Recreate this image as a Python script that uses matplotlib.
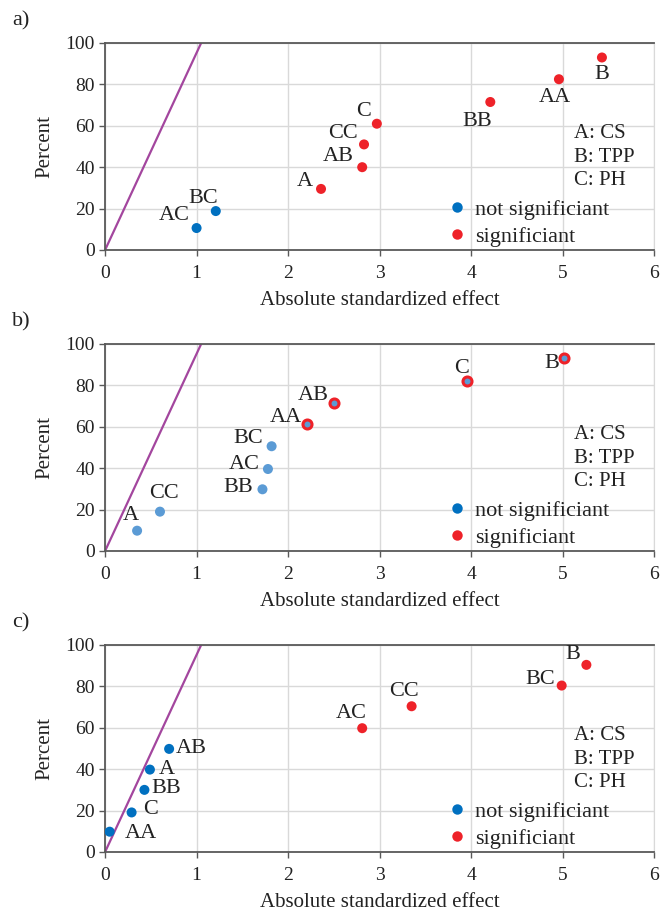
import matplotlib
matplotlib.use('Agg')
import matplotlib.pyplot as plt
from matplotlib.lines import Line2D

plt.rcParams['font.family'] = ['Liberation Serif', 'DejaVu Serif']

# data
panel_names = ['a)', 'b)', 'c)']

a_labels = ['AC', 'BC', 'A', 'AB', 'CC', 'C', 'BB', 'AA', 'B']
a_effect = [1.0, 1.21, 2.36, 2.81, 2.83, 2.97, 4.21, 4.96, 5.43]
a_percent = [10.6, 18.8, 29.5, 40.0, 51.0, 61.0, 71.5, 82.5, 93.0]
a_signif = [False, False, True, True, True, True, True, True, True]

b_labels = ['A', 'CC', 'BB', 'AC', 'BC', 'AA', 'AB', 'C', 'B']
b_effect = [0.35, 0.60, 1.72, 1.78, 1.82, 2.21, 2.50, 3.95, 5.02]
b_percent = [9.8, 19.0, 29.8, 39.6, 50.6, 61.4, 71.3, 82.2, 93.0]
b_signif = [False, False, False, False, False, True, True, True, True]

c_labels = ['AA', 'C', 'BB', 'A', 'AB', 'AC', 'CC', 'BC', 'B']
c_effect = [0.05, 0.29, 0.43, 0.49, 0.70, 2.81, 3.35, 4.99, 5.26]
c_percent = [9.8, 19.1, 30.0, 39.8, 49.8, 59.8, 70.4, 80.4, 90.4]
c_signif = [False, False, False, False, False, True, True, True, True]

# reference line (Pareto limit)
ref_x = [0, 1.05]
ref_y = [0, 100]

factor_text = 'A: CS\nB: TPP\nC: PH'

# label placement: (dx px, dy px, ha, va)
a_pos = [(-7, 3, 'right', 'bottom'), (2, 3, 'right', 'bottom'), (-8, -2, 'right', 'bottom'),
         (-8, 1, 'right', 'bottom'), (-6, 1, 'right', 'bottom'), (-6, 3, 'right', 'bottom'),
         (2, -10, 'right', 'top'), (-4, -9, 'center', 'top'), (0, -8, 'center', 'top')]
b_pos = [(2, 6, 'right', 'bottom'), (4, 9, 'center', 'bottom'), (-9, 2, 'right', 'center'),
         (-8, 5, 'right', 'center'), (-8, 8, 'right', 'center'), (-5, 6, 'right', 'center'),
         (-5, 8, 'right', 'center'), (-5, 3, 'center', 'bottom'), (-5, -5, 'right', 'center')]
c_pos = [(15, -2, 'left', 'center'), (12, 3, 'left', 'center'), (7, 1, 'left', 'center'),
         (9, 0, 'left', 'center'), (7, 0, 'left', 'center'), (-11, 5, 'center', 'bottom'),
         (-8, 5, 'center', 'bottom'), (-7, 6, 'right', 'center'), (-6, 1, 'right', 'bottom')]

blue = '#0070C0'
light_blue = '#5B9BD5'
red = '#EE2229'
purple = '#A3469E'
text_col = '#222222'

fig = plt.figure(figsize=(6.65, 9.11), dpi=100)
axes_rects = [[0.158, 0.7256, 0.8256, 0.2272],
              [0.158, 0.3952, 0.8256, 0.2272],
              [0.158, 0.0648, 0.8256, 0.2272]]
panels = [
    (a_labels, a_effect, a_percent, a_signif, a_pos),
    (b_labels, b_effect, b_percent, b_signif, b_pos),
    (c_labels, c_effect, c_percent, c_signif, c_pos),
]

for k, (labels, xs, ys, sig, pos) in enumerate(panels):
    ax = fig.add_axes(axes_rects[k])
    ax.set_xlim(0, 6)
    ax.set_ylim(0, 100)
    ax.set_xticks(range(0, 7))
    ax.set_yticks(range(0, 101, 20))
    ax.grid(True, color='#D9D9D9', linewidth=1)
    ax.set_axisbelow(True)
    for s in ['top', 'left', 'bottom']:
        ax.spines[s].set_color('#595959')
        ax.spines[s].set_linewidth(1.3)
    ax.spines['right'].set_color('#D9D9D9')
    ax.tick_params(length=4, width=1, color='#595959', labelsize=14, labelcolor=text_col)
    ax.tick_params(axis='x', pad=7)

    ax.plot(ref_x, ref_y, color=purple, lw=1.6, zorder=2)

    for lab, x, y, s, p in zip(labels, xs, ys, sig, pos):
        if k == 1:
            if s:
                ax.scatter(x, y, s=42, color=light_blue, edgecolor=red, linewidth=2.2, zorder=3)
            else:
                ax.scatter(x, y, s=52, color=light_blue, edgecolor='none', zorder=3)
        else:
            ax.scatter(x, y, s=52, color=red if s else blue, edgecolor='none', zorder=3)
        ax.annotate(lab, (x, y), xytext=(p[0], p[1]), textcoords='offset pixels',
                    ha=p[2], va=p[3], fontsize=16, color=text_col)

    ax.text(0.854, 0.449, factor_text, transform=ax.transAxes, ha='left', va='center',
            fontsize=15, linespacing=1.32, color=text_col)

    handles = [Line2D([], [], ls='', marker='o', ms=7.5, color=blue, mec='none'),
               Line2D([], [], ls='', marker='o', ms=7.5, color=red, mec='none')]
    ax.legend(handles, ['not significiant', 'significiant'], loc='center left',
              bbox_to_anchor=(0.605, 0.131), frameon=False, fontsize=16,
              handlelength=0.8, handletextpad=0.4, labelspacing=0.3, borderpad=0,
              labelcolor=text_col)

    ax.set_xlabel('Absolute standardized effect', fontsize=15, labelpad=6, color=text_col)
    ax.set_ylabel('Percent', fontsize=15, labelpad=8, color=text_col)

    top_px = 911 - (axes_rects[k][1] + axes_rects[k][3]) * 911
    fig.text(12 / 665, 1 - (top_px - 22) / 911, panel_names[k], fontsize=16,
             ha='left', va='center', color=text_col)

fig.savefig('out.png', dpi=100)
